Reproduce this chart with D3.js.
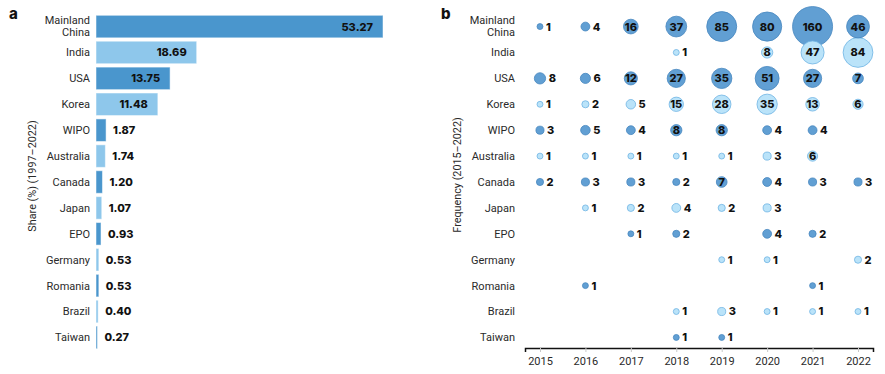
<!DOCTYPE html>
<html>
<head>
<meta charset="utf-8">
<script src="https://cdn.jsdelivr.net/npm/d3@7"></script>
<style>
  body { margin: 0; background: #fff; }
  svg { display: block; font-family: Roboto, "Noto Sans", sans-serif; }
  .cat { font-size: 11px; font-weight: 400; fill: #2a2a2a; }
  .val { font-family: Inter, Roboto, sans-serif; font-size: 11px; font-weight: 800; fill: #111; }
  .ttl { font-size: 10.8px; font-weight: 400; fill: #2a2a2a; }
  .panel { font-family: Inter, sans-serif; font-size: 15px; font-weight: 800; fill: #111; }
</style>
</head>
<body>
<svg width="885" height="374"></svg>
<script>
// categories (same order in both panels)
var countries = ["Mainland China", "India", "USA", "Korea", "WIPO", "Australia", "Canada",
  "Japan", "EPO", "Germany", "Romania", "Brazil", "Taiwan"];

// panel a: share (%) 1997-2022
var shares = [53.27, 18.69, 13.75, 11.48, 1.87, 1.74, 1.20, 1.07, 0.93, 0.53, 0.53, 0.40, 0.27];

// panel b: frequency per year, null = none
var years = ["2015", "2016", "2017", "2018", "2019", "2020", "2021", "2022"];
var freqChina     = [1, 4, 16, 37, 85, 80, 160, 46];
var freqIndia     = [null, null, null, 1, null, 8, 47, 84];
var freqUSA       = [8, 6, 12, 27, 35, 51, 27, 7];
var freqKorea     = [1, 2, 5, 15, 28, 35, 13, 6];
var freqWIPO      = [3, 5, 4, 8, 8, 4, 4, null];
var freqAustralia = [1, 1, 1, 1, 1, 3, 6, null];
var freqCanada    = [2, 3, 3, 2, 7, 4, 3, 3];
var freqJapan     = [null, 1, 2, 4, 2, 3, null, null];
var freqEPO       = [null, null, 1, 2, null, 4, 2, null];
var freqGermany   = [null, null, null, null, 1, 1, null, 2];
var freqRomania   = [null, 1, null, null, null, null, 1, null];
var freqBrazil    = [null, null, null, 1, 3, 1, 1, 1];
var freqTaiwan    = [null, null, null, 1, 1, null, null, null];

var freqRows = [freqChina, freqIndia, freqUSA, freqKorea, freqWIPO, freqAustralia, freqCanada,
  freqJapan, freqEPO, freqGermany, freqRomania, freqBrazil, freqTaiwan];

var svg = d3.select("svg");

// colours alternate dark / light by row
var barDark = "#4a96cd", barLight = "#8ec7eb";
var dotDark = "#619fd3", dotDarkStroke = "#4686bf";
var dotLight = "#bae3f9", dotLightStroke = "#6fb4e3";

// shared row scale
var yBand = d3.scaleBand()
  .domain(countries)
  .range([14, 350])
  .paddingInner(0.13)
  .paddingOuter(0.05);
var yMid = d => yBand(d) + yBand.bandwidth() / 2;

// ---------- panel a ----------
var xA = d3.scaleLinear()
  .domain([0, d3.max(shares)])
  .range([96, 383]);

var aData = countries.map((c, i) => ({ name: c, v: shares[i], i: i }));

svg.append("text").attr("class", "panel").attr("x", 9).attr("y", 19).text("a");

svg.append("g").selectAll("rect")
  .data(aData)
  .enter()
  .append("rect")
  .attr("x", xA(0))
  .attr("y", d => yBand(d.name))
  .attr("width", d => xA(d.v) - xA(0))
  .attr("height", yBand.bandwidth())
  .attr("fill", d => d.i % 2 ? barLight : barDark)
  .attr("stroke", "#ffffff")
  .attr("stroke-opacity", 0.5)
  .attr("stroke-width", 1);

svg.append("g").selectAll("text")
  .data(aData)
  .enter()
  .append("text")
  .attr("class", "val")
  .attr("x", d => d.v > 10 ? xA(d.v) - 10 : xA(d.v) + 7)
  .attr("y", d => yMid(d.name))
  .attr("dy", "0.36em")
  .attr("text-anchor", d => d.v > 10 ? "end" : "start")
  .text(d => d3.format(".2f")(d.v));

function catLabels(x) {
  var g = svg.append("g");
  countries.forEach(function(c) {
    var t = g.append("text")
      .attr("class", "cat")
      .attr("x", x)
      .attr("y", yMid(c))
      .attr("text-anchor", "end");
    var words = c === "Mainland China" ? ["Mainland", "China"] : [c];
    words.forEach(function(w, k) {
      t.append("tspan")
        .attr("x", x)
        .attr("dy", words.length === 1 ? "0.36em" : (k === 0 ? "-0.22em" : "1.1em"))
        .text(w);
    });
  });
}
catLabels(90);

svg.append("text")
  .attr("class", "ttl")
  .attr("transform", "translate(36,176) rotate(-90)")
  .attr("text-anchor", "middle")
  .text("Share (%) (1997\u20132022)");

// ---------- panel b ----------
svg.append("text").attr("class", "panel").attr("x", 441).attr("y", 19).text("b");

catLabels(515);

svg.append("text")
  .attr("class", "ttl")
  .attr("transform", "translate(461,175) rotate(-90)")
  .attr("text-anchor", "middle")
  .text("Frequency (2015\u20132022)");

var xB = d3.scalePoint()
  .domain(years)
  .range([525, 873])
  .padding(0.33);

var r = d3.scaleSqrt()
  .domain([0, 160])
  .range([1.5, 20]);

var xAxis = d3.axisBottom(xB).tickSize(4).tickPadding(5);
var axisG = svg.append("g")
  .attr("transform", "translate(0,348)")
  .call(xAxis);
axisG.select(".domain").attr("stroke", "#111").attr("stroke-width", 1.5);
axisG.selectAll(".tick line").attr("stroke", "#c8c8c8");
axisG.selectAll(".tick text")
  .attr("font-family", "Roboto, sans-serif")
  .attr("font-size", 11)
  .attr("font-weight", 400)
  .attr("fill", "#2a2a2a");

var bData = [];
freqRows.forEach(function(row, i) {
  row.forEach(function(v, j) {
    if (v != null) bData.push({ name: countries[i], year: years[j], v: v, i: i });
  });
});
// draw big circles first so small ones sit on top
bData.sort((a, b) => b.v - a.v);

var inside = d => d.v >= 6 && +d.year >= 2017;

svg.append("g").selectAll("circle")
  .data(bData)
  .enter()
  .append("circle")
  .attr("cx", d => xB(d.year))
  .attr("cy", d => yMid(d.name))
  .attr("r", d => r(d.v))
  .attr("fill", d => d.i % 2 ? dotLight : dotDark)
  .attr("stroke", d => d.i % 2 ? dotLightStroke : dotDarkStroke)
  .attr("stroke-width", 0.8);

svg.append("g").selectAll("text")
  .data(bData)
  .enter()
  .append("text")
  .attr("class", "val")
  .attr("x", d => inside(d) ? xB(d.year) : xB(d.year) + r(d.v) + 3)
  .attr("y", d => yMid(d.name))
  .attr("dy", "0.36em")
  .attr("text-anchor", d => inside(d) ? "middle" : "start")
  .text(d => d.v);
</script>
</body>
</html>
